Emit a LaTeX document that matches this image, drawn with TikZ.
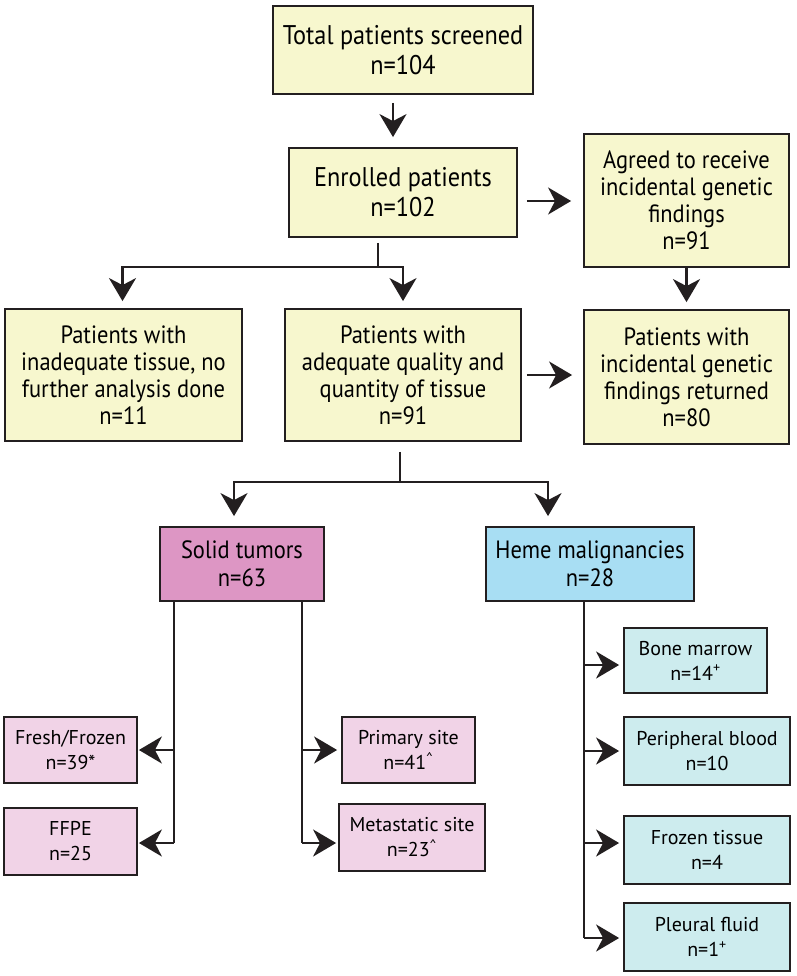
\documentclass[tikz,border=0pt]{standalone}
\usepackage{fontspec}
\setmainfont{PT Sans}
\newfontfamily\condfont[FakeStretch=0.9]{PT Sans}
\usetikzlibrary{arrows.meta,calc}
\definecolor{ylw}{HTML}{F7F7CE}
\definecolor{mag}{HTML}{DD96C4}
\definecolor{sky}{HTML}{A8DEF3}
\definecolor{pnk}{HTML}{F1D3E7}
\definecolor{cyn}{HTML}{CDECEE}
\definecolor{edge}{HTML}{231F20}
\tikzset{
  boxbase/.style={draw=edge, line width=1.8pt, align=center, inner sep=0pt},
  ybox/.style={boxbase, fill=ylw, font=\condfont\fontsize{25}{27}\selectfont},
  bigbox/.style={boxbase, fill=ylw, font=\condfont\fontsize{27}{30}\selectfont},
  mbox/.style={boxbase, fill=mag, font=\condfont\fontsize{25}{28}\selectfont},
  bbox/.style={boxbase, fill=sky, font=\condfont\fontsize{25}{28}\selectfont},
  pbox/.style={boxbase, fill=pnk, font=\fontsize{20}{25}\selectfont},
  cbox/.style={boxbase, fill=cyn, font=\fontsize{20}{25}\selectfont},
  conn/.style={draw=edge, line width=2.4pt},
  arr/.style={conn, -{Stealth[length=23pt,width=27pt,inset=7pt]}},
}
\begin{document}
\begin{tikzpicture}[x={(1pt,0pt)}, y={(0pt,-1pt)}]
\useasboundingbox[fill=white] (0,0) rectangle (796,976);

% boxes
\node[bigbox, minimum width=260pt, minimum height=88pt] (total) at (403,50) {Total patients screened\\n=104};
\node[bigbox, minimum width=228pt, minimum height=89pt] (enrolled) at (403,192.5) {Enrolled patients\\n=102};
\node[ybox, minimum width=205pt, minimum height=133pt] (agreed) at (686.5,200.5) {Agreed to receive\\incidental genetic\\findings\\n=91};
\node[ybox, minimum width=237pt, minimum height=132pt] (inadequate) at (123.5,375) {Patients with\\inadequate tissue, no\\further analysis done\\n=11};
\node[ybox, minimum width=236pt, minimum height=132pt] (adequate) at (403,375) {Patients with\\adequate quality and\\quantity of tissue\\n=91};
\node[ybox, minimum width=205pt, minimum height=134pt] (returned) at (686.5,377) {Patients with\\incidental genetic\\findings returned\\n=80};
\node[mbox, minimum width=164pt, minimum height=74pt] (solid) at (242,564) {Solid tumors\\n=63};
\node[bbox, minimum width=208pt, minimum height=74pt] (heme) at (590,564) {Heme malignancies\\n=28};

\node[pbox, minimum width=133pt, minimum height=66pt] (fresh) at (70.5,750) {Fresh/Frozen\\n=39*};
\node[pbox, minimum width=133pt, minimum height=67pt] (ffpe) at (70.5,841.5) {FFPE\\n=25};
\node[pbox, minimum width=133pt, minimum height=66pt] (primary) at (408.5,750) {Primary site\\n=41\textsuperscript{\textasciicircum}};
\node[pbox, minimum width=146pt, minimum height=67pt] (meta) at (412,837.5) {Metastatic site\\n=23\textsuperscript{\textasciicircum}};

\node[cbox, minimum width=143pt, minimum height=65pt] (bone) at (695.5,660.5) {Bone marrow\\n=14\textsuperscript{+}};
\node[cbox, minimum width=166pt, minimum height=68pt] (periph) at (707,751) {Peripheral blood\\n=10};
\node[cbox, minimum width=166pt, minimum height=68pt] (frozen) at (707,850) {Frozen tissue\\n=4};
\node[cbox, minimum width=166pt, minimum height=68pt] (pleural) at (707,937) {Pleural fluid\\n=1\textsuperscript{+}};

% connectors (top)
\draw[arr] ($(total.south)+(-10,8)$) -- ($(enrolled.north)+(-10,-10)$);
\coordinate (ea) at ($(enrolled.east)+(9,8.5)$);
\draw[arr] (ea) -- ($(agreed.west |- ea)+(-12,0)$);
\draw[arr] ($(agreed.south)+(0,0)$) -- ($(returned.north)+(0,-7)$);
\coordinate (ar) at ($(adequate.east)+(5,0)$);
\draw[arr] (ar) -- ($(returned.west |- ar)+(-11,0)$);

\coordinate (e1) at ($(enrolled.south)+(-25,5)$);
\coordinate (e2) at ($(enrolled.south)+(-25,29)$);
\draw[conn] (e1) -- (e2);
\draw[arr] (e2) -| ($(inadequate.north)+(-1,-7)$);
\draw[arr] (e2) -| ($(adequate.north)+(0,-7)$);

\coordinate (a1) at ($(adequate.south)+(-3,10)$);
\coordinate (a2) at ($(adequate.south)+(-3,40)$);
\draw[conn] (a1) -- (a2);
\draw[arr] (a2) -| ($(solid.north)+(-8,-10)$);
\draw[arr] (a2) -| ($(heme.north)+(-42,-10)$);

% solid tumor branches
\coordinate (sl) at (174,601);
\coordinate (sr) at (302,601);
\coordinate (slA) at (174,750);
\coordinate (slB) at (174,843);
\coordinate (srA) at (302,750);
\coordinate (srB) at (302,843);
\draw[conn] (sl) -- (slB);
\draw[conn] (sr) -- (srB);
\draw[arr] (slA) -- ($(fresh.east)+(1,0)$);
\draw[arr] (slB) -- ($(ffpe.east |- slB)+(1,0)$);
\draw[arr] (srA) -- ($(primary.west)+(-4,0)$);
\draw[arr] (srB) -- ($(meta.west |- srB)+(-2,0)$);

% heme branches
\coordinate (ht) at (584,601);
\coordinate (hA) at (584,665);
\coordinate (hB) at (584,751);
\coordinate (hC) at (584,843);
\coordinate (hD) at (584,938);
\draw[conn] (ht) -- (hD);
\draw[arr] (hA) -- ($(bone.west |- hA)+(-4,0)$);
\draw[arr] (hB) -- ($(periph.west |- hB)+(-4,0)$);
\draw[arr] (hC) -- ($(frozen.west |- hC)+(-4,0)$);
\draw[arr] (hD) -- ($(pleural.west |- hD)+(-4,0)$);
\end{tikzpicture}
\end{document}
